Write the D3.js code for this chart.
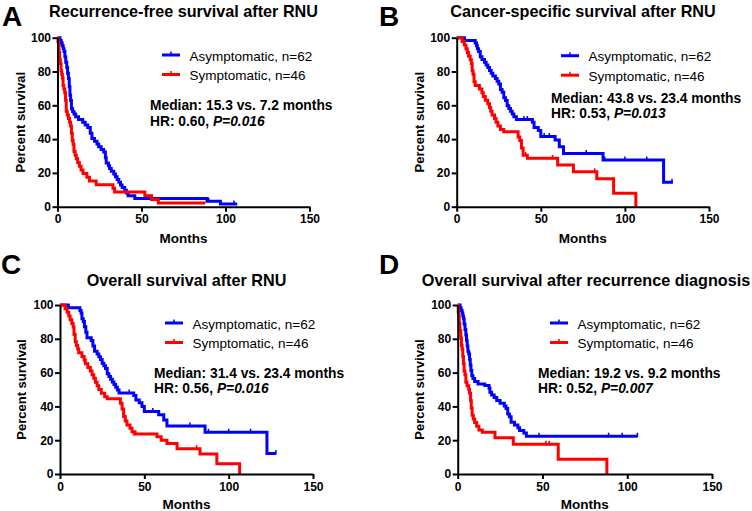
<!DOCTYPE html>
<html>
<head>
<meta charset="utf-8">
<script src="https://cdn.jsdelivr.net/npm/d3@7"></script>
<style>
  body { margin: 0; background: #fff; }
  svg { display: block; font-family: "Liberation Sans", Arial, sans-serif; }
  .axis text { font-size: 12px; font-weight: bold; fill: #000; }
  .axis path, .axis line { stroke: #000; stroke-width: 2; }
</style>
</head>
<body>
<div id="chart"></div>
<script>
// step points [month, percent survival]
var rfsAsym = [[0,100],[1.5,98.4],[2.2,96.8],[2.8,95.2],[3.4,93.5],[3.9,91.9],[4.4,88.7],[4.9,85.5],[5.5,82.3],[6,79],[6.5,75.8],[7,71],[7.4,66],[7.8,62.9],[8.3,58],[9,56.4],[9.8,54.8],[10.8,53.2],[12.5,51.6],[15,50],[16.5,48.4],[18,46.8],[19.5,43.5],[20.5,40.3],[22,38.7],[23.5,37.1],[24.5,35.5],[26,33.9],[27.5,32.3],[28.5,29],[29,25.8],[30.3,24.2],[31,22.6],[32,21],[33.5,19.4],[34.5,17.7],[35.5,16.1],[36.5,14.5],[37.5,12.9],[38.5,11.3],[40,9.7],[41,8.1],[42,6.5],[46,4.8],[89,3.2],[97,1.6],[107,1.6]]
var rfsSymp = [[0,100],[0.3,97.8],[0.6,95.7],[0.9,91.3],[1.3,87],[1.7,84.8],[2.1,80.4],[2.5,78.3],[2.9,76.1],[3.3,71.7],[3.8,69.6],[4.3,67.4],[4.8,63],[5.2,56.5],[5.8,54.3],[6.5,52.2],[7.2,50],[7.8,47.8],[8.3,43.5],[8.8,39.1],[9.3,37],[9.8,32.6],[10.5,30.4],[11.2,28.3],[12,26.1],[13,23.9],[14,21.7],[15.2,19.6],[17.5,17.4],[19,15.2],[23,13],[33,10.9],[34,8.7],[52,6.5],[56,4.3],[60,2.2],[88,2.2]]

var cssAsym = [[0,100],[4.6,98.4],[11,96.8],[11.8,95.2],[12.3,93.5],[13,91.9],[14,88.7],[15,87.1],[16.5,85.5],[17.5,83.9],[18.5,82.3],[19.5,80.6],[20.5,79],[21.5,77.4],[23,75.8],[24,74.2],[25,72.6],[26,69.4],[27,67.7],[28,64.5],[29,62.9],[30,59.7],[31,58.1],[32,56.5],[33,54.8],[34,53.2],[35.5,51.6],[45,49.9],[46,46.8],[48.5,45.1],[50,41.6],[58.5,39.5],[61,35.5],[63.5,31.5],[87,27.6],[123,14.5],[128.5,14.5]]
var cssSymp = [[0,100],[3.2,97.8],[4.5,95.7],[5.5,93.5],[6.3,91.3],[7,89.1],[8,87],[8.7,84.8],[9.2,80.4],[9.7,78.3],[10.3,73.9],[11,71.7],[13.5,69.6],[15,67.4],[15.8,65.2],[17,63],[18.5,60.9],[19.5,58.7],[20.2,56.5],[21,54.3],[22.5,52.2],[23.4,50],[24.5,47.8],[26,45.7],[28,44.4],[36.5,41.3],[37.5,39.1],[38.5,34.8],[39.5,30.4],[42,28.6],[60,24.7],[69.4,20.7],[83.3,16.5],[93.3,8],[106.5,0]]

var osAsym = [[0,100],[4.9,98.4],[11.8,96.8],[12.5,95.2],[13,91.9],[13.8,90.3],[14.5,87.1],[15.3,83.9],[16,80.6],[18.5,79],[19.5,75.8],[20.5,72.6],[22,71],[23,69.4],[24,67.7],[25,65.6],[26,64],[27,62.4],[28,59.3],[29,57.7],[30,56.1],[31,54.5],[32,52.9],[33,51.3],[34,49.7],[35,48],[43.7,46.4],[45,43.8],[47,42.2],[48.6,40],[50,37],[58.5,35],[61.5,32],[63.4,28.4],[86,24.7],[122.7,12.2],[128,12.2]]
var osSymp = [[0,100],[3,97.8],[4.2,95.7],[5.2,93.5],[6,91.3],[7,89.1],[7.8,87],[8.3,82.6],[9,78.3],[9.7,76.1],[10.5,73.9],[11.1,71.7],[13,69.6],[14.3,67.4],[15,65.2],[16.5,63],[18,61],[19,58.7],[20,56.6],[21,54.3],[22,52.2],[23,50],[24.5,47.8],[26.5,45.7],[28,44.6],[35.8,41.8],[36.8,38.5],[37.7,34],[38.7,31.4],[39.7,29],[41.5,27],[42.7,25],[44,23.7],[57.5,22],[60,20],[63.4,18],[69.4,15],[83,11.8],[93,6],[106.5,0]]

var osrAsym = [[0,100],[1.4,98.4],[2,96.8],[2.6,95.2],[3,93.5],[3.4,91.9],[3.8,88.7],[4.3,85.5],[4.8,82.3],[5.2,79],[5.6,75.8],[6,72.6],[6.5,71],[7,67.7],[7.4,64.5],[7.8,61.3],[8.3,58.1],[9,56.5],[10,54.8],[12,53.2],[16,52.4],[18.5,50.8],[19,48.4],[20,46.8],[21.5,45.2],[23,43.5],[25,41.9],[27.5,40.3],[28.5,38.7],[29.5,35.5],[30.5,33.9],[31.5,30.6],[33.5,29],[35.5,27.4],[36.5,25.8],[39,24.2],[40.5,22.4],[106,22.4]]
var osrSymp = [[0,100],[0.3,95.7],[0.6,93.5],[0.9,89.1],[1.3,84.8],[1.8,80.4],[2.2,76.1],[2.6,73.9],[3,69.6],[3.4,65.2],[3.8,60.9],[4.3,58.7],[4.8,54.3],[5.5,52.2],[6.5,50],[7,47.8],[7.6,43.5],[8,39.1],[8.5,34.8],[9.2,32.6],[10,30.4],[11.2,28.3],[12.5,26.1],[14.5,24.7],[22,21.4],[32.8,17.6],[59.3,8.8],[88,0]]

// censored times (tick marks)
var rfsAsymCens = [90, 105]
var cssAsymCens = [40, 42, 52, 55, 77, 88, 100, 113, 128]
var cssSympCens = [41, 57, 82]
var osAsymCens = [41, 55, 77, 88, 100, 113, 128]
var osSympCens = [45, 81]
var osrAsymCens = [48, 89, 97, 106]
var osrSympCens = [52, 54]

var yTicks = [0, 20, 40, 60, 80, 100]
var xTicks = [0, 50, 100, 150]
var legendLabels = ["Asymptomatic, n=62", "Symptomatic, n=46"]
var seriesColors = ["#0000ff", "#ff0000"]

var panels = [
  {letter:"A", title:"Recurrence-free survival after RNU", asym:rfsAsym, symp:rfsSymp, ac:rfsAsymCens, sc:[],
   median:"Median: 15.3 vs. 7.2 months", hr:"HR: 0.60, ", p:"P=0.016",
   x0:57.5, x1:309.5, y0:206.7, y1:37.7, titleX:183.5, titleY:17, letterX:2, letterY:25.5,
   legX:162, legY:55, medX:150, medY:110, monthsY:243, psX:25},
  {letter:"B", title:"Cancer-specific survival after RNU", asym:cssAsym, symp:cssSymp, ac:cssAsymCens, sc:cssSympCens,
   median:"Median: 43.8 vs. 23.4 months", hr:"HR: 0.53, ", p:"P=0.013",
   x0:456.7, x1:709, y0:206.7, y1:37.7, titleX:583, titleY:17, letterX:379, letterY:25.5,
   legX:561, legY:55.7, medX:551, medY:102.5, monthsY:243, psX:424},
  {letter:"C", title:"Overall survival after RNU", asym:osAsym, symp:osSymp, ac:osAsymCens, sc:osSympCens,
   median:"Median: 31.4 vs. 23.4 months", hr:"HR: 0.56, ", p:"P=0.016",
   x0:60, x1:313, y0:474, y1:305, titleX:186.5, titleY:286, letterX:1, letterY:274,
   legX:165, legY:323, medX:154, medY:377.5, monthsY:509, psX:26},
  {letter:"D", title:"Overall survival after recurrence diagnosis", asym:osrAsym, symp:osrSymp, ac:osrAsymCens, sc:osrSympCens,
   median:"Median: 19.2 vs. 9.2 months", hr:"HR: 0.52, ", p:"P=0.007",
   x0:457.7, x1:712, y0:474, y1:305, titleX:586, titleY:286, letterX:379, letterY:274,
   legX:550, legY:323, medX:538, medY:377.5, monthsY:509, psX:424}
]

var svg = d3.select("#chart").append("svg").attr("width", 752).attr("height", 511)

function survAt(pts, t) {
  var s = pts[0][1]
  for (var i = 0; i < pts.length; i++) { if (pts[i][0] <= t) s = pts[i][1] }
  return s
}

panels.forEach(function(p) {
  var g = svg.append("g")
  var x = d3.scaleLinear().domain([0, 150]).range([p.x0, p.x1])
  var y = d3.scaleLinear().domain([0, 100]).range([p.y0, p.y1])

  g.append("text").attr("x", p.letterX).attr("y", p.letterY)
    .style("font-size", "28px").style("font-weight", "bold").text(p.letter)
  g.append("text").attr("x", p.titleX).attr("y", p.titleY).attr("text-anchor", "middle")
    .style("font-size", "16.2px").style("font-weight", "bold").text(p.title)

  var line = d3.line().x(function(d){ return x(d[0]) }).y(function(d){ return y(d[1]) }).curve(d3.curveStepAfter)

  var curves = [[p.asym, p.ac], [p.symp, p.sc]]
  curves.forEach(function(c, i) {
    g.append("path").datum(c[0]).attr("d", line).attr("fill", "none")
      .attr("stroke", seriesColors[i]).attr("stroke-width", 3).attr("stroke-linejoin", "miter")
    g.selectAll(null).data(c[1]).enter().append("line")
      .attr("x1", function(d){ return x(d) }).attr("x2", function(d){ return x(d) })
      .attr("y1", function(d){ return y(survAt(c[0], d)) - 3.5 })
      .attr("y2", function(d){ return y(survAt(c[0], d)) + 1 })
      .attr("stroke", seriesColors[i]).attr("stroke-width", 1.5)
  })

  g.append("g").attr("class", "axis").attr("transform", "translate(" + p.x0 + ",0)")
    .call(d3.axisLeft(y).tickValues(yTicks).tickSize(5).tickSizeOuter(0).tickPadding(1.5))
  g.append("g").attr("class", "axis").attr("transform", "translate(0," + p.y0 + ")")
    .call(d3.axisBottom(x).tickValues(xTicks).tickSize(5).tickSizeOuter(0).tickPadding(3))

  g.append("text").attr("x", (p.x0 + p.x1) / 2).attr("y", p.monthsY).attr("text-anchor", "middle")
    .style("font-size", "13.5px").style("font-weight", "bold").text("Months")
  g.append("text").attr("transform", "translate(" + p.psX + "," + ((p.y0 + p.y1) / 2) + ") rotate(-90)")
    .attr("text-anchor", "middle").style("font-size", "13px").style("font-weight", "bold").text("Percent survival")

  legendLabels.forEach(function(lab, i) {
    var ly = p.legY + i * 19.5
    g.append("line").attr("x1", p.legX).attr("x2", p.legX + 18).attr("y1", ly).attr("y2", ly)
      .attr("stroke", seriesColors[i]).attr("stroke-width", 3)
    g.append("line").attr("x1", p.legX + 9).attr("x2", p.legX + 9).attr("y1", ly - 3.5).attr("y2", ly)
      .attr("stroke", seriesColors[i]).attr("stroke-width", 1.5)
    g.append("text").attr("x", p.legX + 27.5).attr("y", ly + 5.5)
      .style("font-size", "13.5px").text(lab)
  })

  g.append("text").attr("x", p.medX).attr("y", p.medY)
    .style("font-size", "13.8px").style("font-weight", "bold").text(p.median)
  var hr = g.append("text").attr("x", p.medX).attr("y", p.medY + 15.5)
    .style("font-size", "13.8px").style("font-weight", "bold")
  hr.append("tspan").text(p.hr)
  hr.append("tspan").style("font-style", "italic").text(p.p)
})
</script>
</body>
</html>
